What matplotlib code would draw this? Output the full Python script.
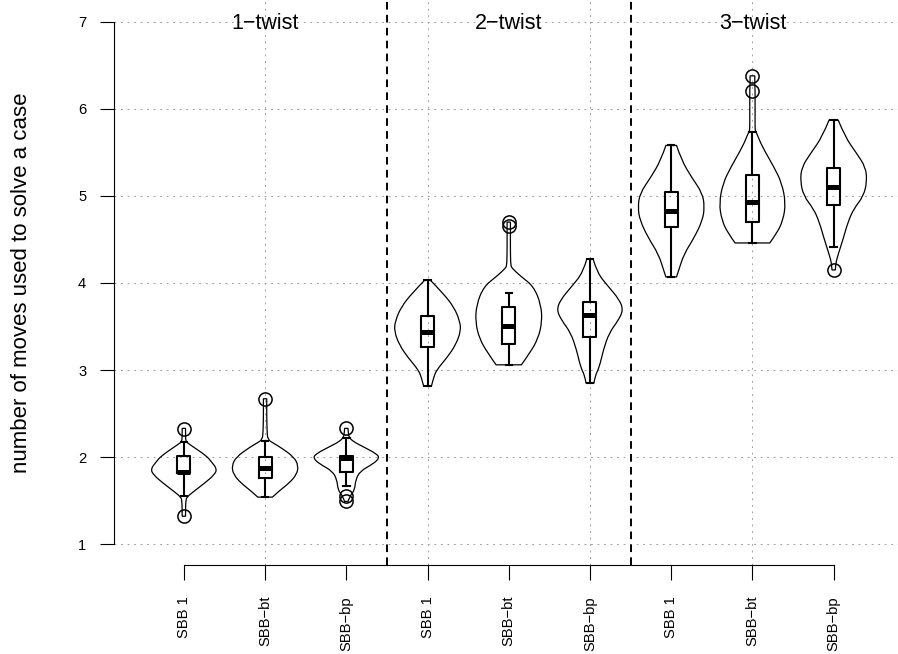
import matplotlib
matplotlib.use("Agg")
import matplotlib.pyplot as plt
from matplotlib.path import Path
from matplotlib.patches import PathPatch
import numpy as np

plt.rcParams['font.family'] = ['Liberation Sans', 'DejaVu Sans']
plt.rcParams['lines.scale_dashes'] = False

groups = ['1−twist', '2−twist', '3−twist']
cases = ['SBB 1', 'SBB−bt', 'SBB−bp'] * 3

# box statistics per violin
q1 = [1.82, 1.76, 1.83, 3.27, 3.30, 3.38, 4.64, 4.70, 4.90]
med = [1.83, 1.87, 1.99, 3.44, 3.51, 3.63, 4.83, 4.93, 5.10]
q3 = [2.01, 2.00, 2.01, 3.62, 3.73, 3.78, 5.05, 5.24, 5.32]
wlo = [1.55, 1.54, 1.67, 2.82, 3.06, 2.85, 4.07, 4.46, 4.41]
whi = [2.17, 2.18, 2.22, 4.03, 3.89, 4.28, 5.58, 5.74, 5.87]
outliers = [[1.32, 2.32], [2.67], [1.49, 1.55, 2.33], [], [4.66, 4.70], [],
            [], [6.21, 6.38], [4.15]]

# density profiles (relative to the widest point of each violin)
dens_y = [
    [1.32, 1.40, 1.50, 1.54, 1.60, 1.70, 1.79, 1.86, 1.94, 2.01, 2.11, 2.16, 2.18, 2.25, 2.33],
    [1.54, 1.62, 1.70, 1.80, 1.90, 2.00, 2.11, 2.16, 2.20, 2.30, 2.45, 2.60, 2.67],
    [1.49, 1.56, 1.62, 1.74, 1.84, 1.92, 1.99, 2.04, 2.12, 2.18, 2.23, 2.28, 2.33],
    [2.82, 2.91, 3.00, 3.14, 3.29, 3.45, 3.56, 3.72, 3.89, 4.03],
    [3.06, 3.20, 3.36, 3.55, 3.75, 3.96, 4.08, 4.17, 4.20, 4.35, 4.50, 4.66, 4.70],
    [2.85, 2.93, 3.03, 3.23, 3.43, 3.57, 3.69, 3.81, 3.96, 4.12, 4.28],
    [4.07, 4.14, 4.33, 4.52, 4.72, 4.87, 5.03, 5.21, 5.41, 5.58],
    [4.46, 4.57, 4.72, 4.92, 5.15, 5.33, 5.57, 5.70, 5.74, 5.76, 5.90, 6.10, 6.21, 6.30, 6.38],
    [4.15, 4.22, 4.31, 4.50, 4.70, 4.85, 5.00, 5.17, 5.33, 5.49, 5.68, 5.87],
]
dens_w = [
    [0.05, 0.05, 0.06, 0.09, 0.28, 0.62, 0.90, 1.00, 0.84, 0.69, 0.31, 0.12, 0.06, 0.05, 0.05],
    [0.22, 0.45, 0.72, 0.95, 1.00, 0.87, 0.47, 0.25, 0.08, 0.06, 0.05, 0.05, 0.05],
    [0.05, 0.12, 0.25, 0.28, 0.42, 0.80, 1.00, 0.90, 0.50, 0.20, 0.08, 0.06, 0.05],
    [0.12, 0.18, 0.27, 0.58, 0.85, 1.00, 0.97, 0.80, 0.45, 0.09],
    [0.38, 0.64, 0.88, 1.00, 0.97, 0.75, 0.35, 0.10, 0.06, 0.05, 0.05, 0.05, 0.05],
    [0.12, 0.15, 0.28, 0.40, 0.58, 0.85, 1.00, 0.88, 0.55, 0.21, 0.09],
    [0.16, 0.22, 0.38, 0.69, 0.94, 1.00, 0.94, 0.62, 0.31, 0.16],
    [0.52, 0.73, 0.92, 1.00, 0.88, 0.65, 0.29, 0.15, 0.10, 0.08, 0.08, 0.08, 0.08, 0.07, 0.07],
    [0.05, 0.06, 0.12, 0.28, 0.43, 0.60, 0.90, 1.00, 0.96, 0.69, 0.34, 0.14],
]

pos = np.arange(1, len(cases) + 1)
half_width = 0.41


def smooth_chain(pts):
    """Quadratic bezier chain that uses the inner points as control points."""
    verts, codes = [pts[0]], []
    for k in range(1, len(pts) - 1):
        end = pts[k + 1] if k == len(pts) - 2 else (pts[k] + pts[k + 1]) / 2
        verts += [pts[k], end]
        codes += [Path.CURVE3, Path.CURVE3]
    if len(pts) == 2:
        verts.append(pts[1])
        codes.append(Path.LINETO)
    return verts, codes


def violin_path(p, ys, ws):
    right = np.column_stack([p + ws, ys])
    left = np.column_stack([p - ws, ys])[::-1]
    v1, c1 = smooth_chain(right)
    v2, c2 = smooth_chain(left)
    verts = v1 + v2 + [v1[0]]
    codes = [Path.MOVETO] + c1 + [Path.LINETO] + c2 + [Path.CLOSEPOLY]
    return Path(np.array(verts), codes)


fig = plt.figure(figsize=(8.98, 6.54), dpi=100)
ax = fig.add_axes([114 / 898, 89 / 654, 789.5 / 898, 564 / 654])
ax.set_xlim(0.14, 9.86)
ax.set_ylim(0.76, 7.24)

grid_kw = dict(color='#a0a0a0', lw=0.75, ls=(0, (1.3, 3.4)), zorder=1)
for y in range(1, 8):
    ax.axhline(y, **grid_kw)
for x in [2, 4, 6, 8]:
    ax.axvline(x, **grid_kw)
for x in [3.5, 6.5]:
    ax.axvline(x, color='black', lw=1.4, ls=(0, (5.5, 3.8)), zorder=2)

for i, p in enumerate(pos):
    ys = np.array(dens_y[i])
    ws = np.array(dens_w[i]) * half_width
    ax.add_patch(PathPatch(violin_path(p, ys, ws), fill=False,
                           edgecolor='black', lw=0.9, zorder=3))

stats = [dict(med=med[i], q1=q1[i], q3=q3[i], whislo=wlo[i], whishi=whi[i],
              fliers=outliers[i]) for i in range(len(cases))]
ax.bxp(stats, positions=pos, widths=0.16, capwidths=0.08, manage_ticks=False,
       boxprops=dict(color='black', lw=1.5),
       whiskerprops=dict(color='black', lw=1.5, ls='-'),
       capprops=dict(color='black', lw=1.5),
       medianprops=dict(color='black', lw=3.6, solid_capstyle='butt'),
       flierprops=dict(marker='o', markersize=9.5, markerfacecolor='none',
                       markeredgecolor='black', markeredgewidth=1.1),
       zorder=4)

for k, g in enumerate(groups):
    ax.text(2 + 3 * k, 6.916, g, ha='center', va='baseline', fontsize=15.5, zorder=5)

for s in ['top', 'right']:
    ax.spines[s].set_visible(False)
ax.spines['left'].set_bounds(1, 7)
ax.spines['bottom'].set_bounds(1, 9)
ax.spines['left'].set_linewidth(0.8)
ax.spines['bottom'].set_linewidth(0.8)

ax.set_yticks(range(1, 8))
ax.set_xticks(pos)
ax.set_xticklabels(cases, rotation=90)
ax.tick_params(axis='y', length=10, width=0.8, pad=10, labelsize=10.6)
ax.tick_params(axis='x', length=10.8, width=0.8, pad=11.5, labelsize=10.6)

fig.text(22 / 898, 1 - 283 / 654, 'number of moves used to solve a case',
         rotation=90, ha='center', va='center', fontsize=16)

fig.savefig('out.png', dpi=100)
